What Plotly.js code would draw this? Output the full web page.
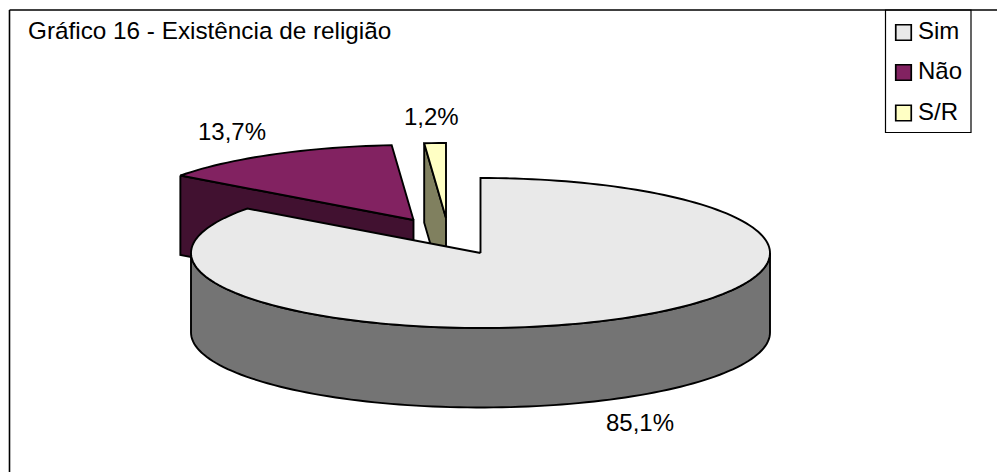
<!DOCTYPE html>
<html lang="pt">
<head>
<meta charset="utf-8">
<title>Existência de religião</title>
<script src="https://cdn.plot.ly/plotly-3.0.1.min.js"></script>
<style>html,body{margin:0;padding:0;background:#fff;overflow:hidden}#chart{width:997px;height:472px}</style>
</head>
<body>
<div id="chart"></div>
<script>
// Survey answers, in percent
const categories = ['Sim', 'Não', 'S/R'];
const shares = [85.1, 13.7, 1.2];

// Fill colours per answer: lid of the slice and its darker wall
const lidColors = ['#E9E9E9', '#822261', '#FFFFC4'];
const wallColors = ['#747474', '#411130', '#80805F'];

// Projection of the tilted disc, in pixel-based axis units
const centre = {x: 480.5, y: 253};
const radius = {x: 289.5, y: 75};
const depth = 79.5;
// How far each slice is pulled out of the disc
const pull = [{x: 0, y: 0}, {x: -67, y: -33}, {x: -34.5, y: -35}];
const labelSpots = [{x: 232, y: 131}, {x: 431, y: 116}];
const bigLabelSpot = {x: 640, y: 422};

const total = shares.reduce((a, b) => a + b, 0);
const FONT = 'Liberation Sans, Arial, sans-serif';
const INK = '#000000';

function rim(angle, p, drop) {
  return [centre.x + p.x + radius.x * Math.sin(angle),
          centre.y + p.y + drop - radius.y * Math.cos(angle)];
}
function arc(a0, a1, p, drop) {
  const n = Math.max(2, Math.ceil(Math.abs(a1 - a0) / 0.03));
  const pts = [];
  for (let i = 0; i <= n; i++) pts.push(rim(a0 + (a1 - a0) * i / n, p, drop));
  return pts;
}
function polygon(pts, color, name) {
  const closed = pts.concat([pts[0]]);
  return {
    type: 'scatter', mode: 'lines', name,
    x: closed.map(q => q[0]), y: closed.map(q => q[1]),
    fill: 'toself', fillcolor: color,
    line: {color: INK, width: 1.9, simplify: false},
    hoverinfo: 'name', showlegend: false
  };
}

// Slice limits, clockwise from twelve o'clock
const limits = [];
let run = 0;
shares.forEach(v => {
  limits.push([run / total * 2 * Math.PI, (run + v) / total * 2 * Math.PI]);
  run += v;
});

function apex(p, drop) { return [centre.x + p.x, centre.y + p.y + drop]; }

function sliceTraces(i) {
  const [a0, a1] = limits[i];
  const p = pull[i];
  const out = [];
  if (i === 0) {
    // Front wall of the large slice, from three o'clock to nine o'clock
    const top = arc(Math.PI / 2, 3 * Math.PI / 2, p, 0);
    const low = arc(3 * Math.PI / 2, Math.PI / 2, p, depth);
    out.push(polygon(top.concat(low), wallColors[i], categories[i]));
  } else {
    // Cut face seen on the slices pulled out behind the disc
    const o0 = rim(a0, p, 0), o1 = rim(a0, p, depth);
    out.push(polygon([o0, apex(p, 0), apex(p, depth), o1], wallColors[i], categories[i]));
  }
  out.push(polygon([apex(p, 0)].concat(arc(a0, a1, p, 0)), lidColors[i], categories[i]));
  return out;
}

// Slices further back are drawn first
const traces = [...sliceTraces(2), ...sliceTraces(1), ...sliceTraces(0)];

// Legend keys
const keyX = 903.5;
const keyY = [32.5, 72.5, 113];
traces.push({
  type: 'scatter', mode: 'markers', x: categories.map(() => keyX), y: keyY,
  marker: {symbol: 'square', size: 15.5, color: lidColors, line: {color: INK, width: 1.7}},
  text: categories, hoverinfo: 'text', showlegend: false
});

const labelText = v => v.toFixed(1).replace('.', ',') + '%';
const spots = [bigLabelSpot, ...labelSpots];
const legendTextY = [30, 70, 111.5];
const annotations = shares.map((v, i) => ({
  x: spots[i].x, y: spots[i].y, text: labelText(v),
  showarrow: false, xanchor: 'center', yanchor: 'middle',
  font: {family: FONT, size: 24, color: INK}
})).concat(categories.map((c, i) => ({
  x: 916, y: legendTextY[i], text: c,
  showarrow: false, xanchor: 'left', yanchor: 'middle',
  font: {family: FONT, size: 24, color: INK}
})));

const layout = {
  width: 997, height: 472,
  margin: {l: 0, r: 0, t: 0, b: 0},
  paper_bgcolor: '#FFFFFF', plot_bgcolor: '#FFFFFF',
  showlegend: false,
  title: {
    text: 'Gráfico 16 - Existência de religião',
    x: 28 / 997, xanchor: 'left', xref: 'paper',
    y: 1 - 30 / 472, yanchor: 'middle', yref: 'container',
    font: {family: FONT, size: 24.3, color: INK}
  },
  xaxis: {range: [0, 997], visible: false, fixedrange: true},
  yaxis: {range: [472, 0], visible: false, fixedrange: true},
  shapes: [
    {type: 'line', x0: 9.5, x1: 9.5, y0: 10, y1: 472, line: {color: INK, width: 1.6}},
    {type: 'line', x0: 9.5, x1: 997, y0: 10, y1: 10, line: {color: INK, width: 1.6}},
    {type: 'rect', x0: 885.5, x1: 971, y0: 10, y1: 132.5, fillcolor: '#FFFFFF', line: {color: INK, width: 1.2}, layer: 'below'}
  ],
  annotations
};

Plotly.newPlot('chart', traces, layout, {displayModeBar: false, staticPlot: false});
</script>
</body>
</html>
